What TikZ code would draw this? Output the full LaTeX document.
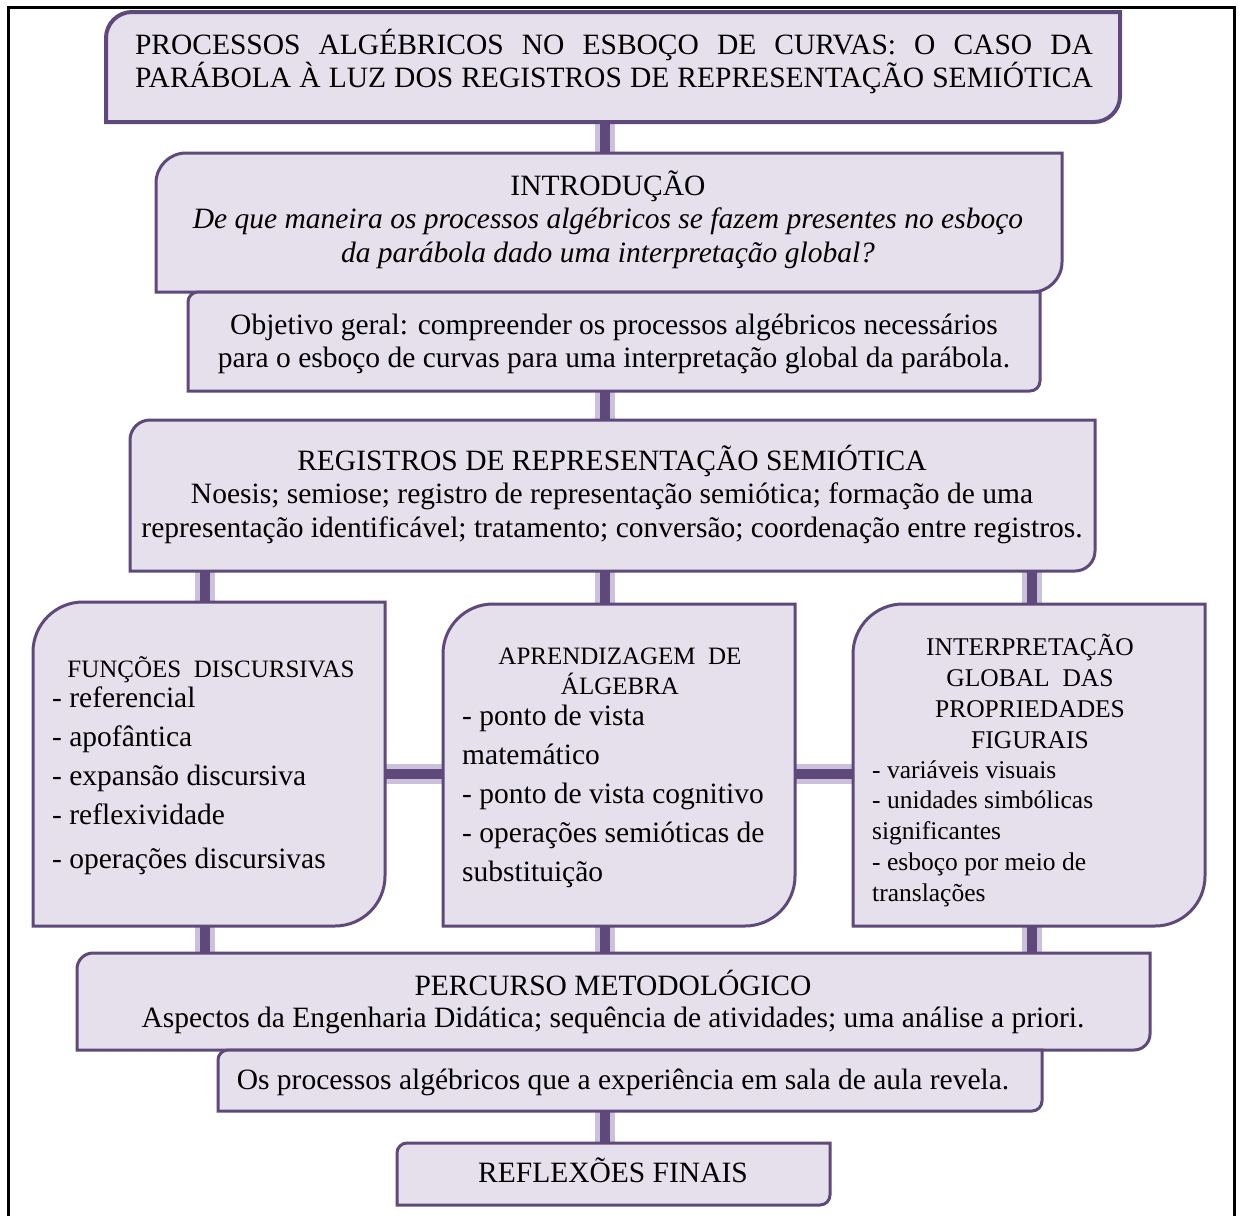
\documentclass[tikz,border=0pt]{standalone}
\usepackage{fontspec}
\setmainfont{Liberation Serif}
\usetikzlibrary{backgrounds}

\definecolor{boxfill}{HTML}{E5E0EC}
\definecolor{boxline}{HTML}{5F497A}
\definecolor{linkshade}{HTML}{CCC1DA}

\newcommand{\bodyfont}{\fontsize{29.5}{33}\selectfont}
\newcommand{\headfont}{\fontsize{25}{30.5}\selectfont}

% box with round corners top left and bottom right
\newcommand{\panelframe}[3][3pt]{%
  \draw[draw=boxline, fill=boxfill, line width=#1] (#2.south west)
    -- ([yshift=-#3]#2.north west) arc[start angle=180, end angle=90, radius=#3]
    -- (#2.north east)
    -- ([yshift=#3]#2.south east) arc[start angle=0, end angle=-90, radius=#3]
    -- cycle;}

\tikzset{
  panel/.style={rectangle, inner sep=0pt, outer sep=0pt},
  txt/.style={inner sep=0pt, anchor=base, align=center, font=\bodyfont},
  list/.style={inner sep=0pt, anchor=base west, align=left},
  link/.style={draw=linkshade, line width=5pt, double=boxline, double distance=10pt},
}

\begin{document}
\begin{tikzpicture}[x=1pt, y=-1pt]
\useasboundingbox (0,0) rectangle (1239,1216);
\draw[line width=3pt] (8,1216) -- (8,7) -- (1234,7) -- (1234,1216);

% boxes
\node[panel, minimum width=1014pt, minimum height=110pt] (title) at (613,67) {};
\node[panel, minimum width=906pt, minimum height=139pt] (intro) at (609,222.5) {};
\node[panel, minimum width=852pt, minimum height=99pt] (objetivo) at (614,341.5) {};
\node[panel, minimum width=965pt, minimum height=151pt] (registros) at (612.5,495.5) {};
\node[panel, minimum width=352pt, minimum height=324pt] (funcoes) at (209,764) {};
\node[panel, minimum width=352pt, minimum height=322pt] (aprend) at (619,765) {};
\node[panel, minimum width=352pt, minimum height=322pt] (interp) at (1029,765) {};
\node[panel, minimum width=1073pt, minimum height=97pt] (percurso) at (613.5,1001.5) {};
\node[panel, minimum width=824pt, minimum height=61pt] (sala) at (630,1080.5) {};
\node[panel, minimum width=433pt, minimum height=62pt] (reflexoes) at (613.5,1174) {};

% texts (base = baseline of the last line)
\node[txt] (titletxt) at (614,87)
  {\makebox[958pt][s]{PROCESSOS ALGÉBRICOS NO ESBOÇO DE CURVAS: O CASO DA}\\
   \makebox[958pt][s]{PARÁBOLA À LUZ DOS REGISTROS DE REPRESENTAÇÃO SEMIÓTICA}};
\node[txt, font=\fontsize{29.5}{33.5}\selectfont] (introtxt) at (608,262)
  {INTRODUÇÃO\\
   \textit{De que maneira os processos algébricos se fazem presentes no esboço}\\
   \textit{da parábola dado uma interpretação global?}};
\node[txt] (objetivotxt) at (614,367)
  {Objetivo geral: compreender os processos algébricos necessários\\
   para o esboço de curvas para uma interpretação global da parábola.};
\node[txt, font=\fontsize{29.5}{33.5}\selectfont] (registrostxt) at (612,537)
  {REGISTROS DE REPRESENTAÇÃO SEMIÓTICA\\
   Noesis; semiose; registro de representação semiótica; formação de uma\\
   representação identificável; tratamento; conversão; coordenação entre registros.};

\node[txt, font=\headfont] (funcoeshead) at (211,677) {FUNÇÕES\ \ DISCURSIVAS};
\node[list, font=\fontsize{29.5}{39}\selectfont] (funcoeslist) at (52,868)
  {- referencial\\ - apofântica\\ - expansão discursiva\\ - reflexividade\\[5pt]
   - operações discursivas};

\node[txt, font=\headfont] (aprendhead) at (620,694.5) {APRENDIZAGEM\ \ DE\\ ÁLGEBRA};
\node[list, font=\fontsize{29.5}{39}\selectfont] (aprendlist) at (462,881)
  {- ponto de vista\\ matemático\\ - ponto de vista cognitivo\\
   - operações semióticas de\\ substituição};

\node[txt, font=\fontsize{25.5}{31}\selectfont] (interphead) at (1030,748)
  {INTERPRETAÇÃO\\ GLOBAL\ \ DAS\\ PROPRIEDADES\\ FIGURAIS};
\node[list, font=\fontsize{25.5}{30.7}\selectfont] (interplist) at (872,901)
  {- variáveis visuais\\ - unidades simbólicas\\ significantes\\
   - esboço por meio de\\ translações};

\node[txt, font=\fontsize{29.5}{32}\selectfont] (percursotxt) at (613,1027)
  {PERCURSO METODOLÓGICO\\
   Aspectos da Engenharia Didática; sequência de atividades; uma análise a priori.};
\node[txt] (salatxt) at (623,1089)
  {Os processos algébricos que a experiência em sala de aula revela.};
\node[txt] (reflexoestxt) at (613,1182) {REFLEXÕES FINAIS};

\coordinate (midcol) at (605,0);
\coordinate (leftcol) at (205,0);
\coordinate (rightcol) at (1032,0);
\coordinate (crossrow) at (0,774);

\begin{pgfonlayer}{background}
% connectors
\draw[link] (title.south -| midcol) -- (intro.north -| midcol);
\draw[link] (objetivo.south -| midcol) -- (registros.north -| midcol);
\draw[link] (registros.south -| leftcol) -- (funcoes.north -| leftcol);
\draw[link] (registros.south -| midcol) -- (aprend.north -| midcol);
\draw[link] (registros.south -| rightcol) -- (interp.north -| rightcol);
\draw[link] (funcoes.east |- crossrow) -- (aprend.west |- crossrow);
\draw[link] (aprend.east |- crossrow) -- (interp.west |- crossrow);
\draw[link] (funcoes.south -| leftcol) -- (percurso.north -| leftcol);
\draw[link] (aprend.south -| midcol) -- (percurso.north -| midcol);
\draw[link] (interp.south -| rightcol) -- (percurso.north -| rightcol);
\draw[link] (sala.south -| midcol) -- (reflexoes.north -| midcol);
% frames
\panelframe[4pt]{title}{26pt}
\panelframe{intro}{30pt}
\panelframe{objetivo}{10pt}
\panelframe{registros}{20pt}
\panelframe{funcoes}{50pt}
\panelframe{aprend}{50pt}
\panelframe{interp}{50pt}
\panelframe{percurso}{16pt}
\panelframe{sala}{10pt}
\panelframe{reflexoes}{10pt}
\end{pgfonlayer}
\end{tikzpicture}
\end{document}
